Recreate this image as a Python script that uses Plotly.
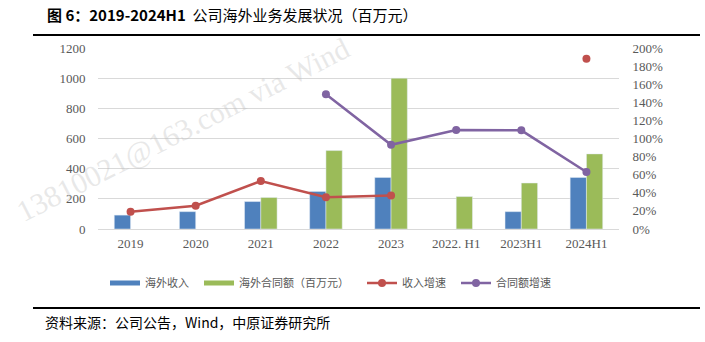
import plotly.graph_objects as go

categories = ["2019", "2020", "2021", "2022", "2023", "2022. H1", "2023H1", "2024H1"]
overseas_revenue = [92, 115, 182, 249, 342, None, 115, 342]
overseas_contract = [None, None, 209, 520, 1000, 215, 305, 498]
revenue_growth = [0.19, 0.257, 0.53, 0.35, 0.37, None, None, None]
revenue_growth_h1 = [None, None, None, None, None, None, None, 1.88]
contract_growth = [None, None, None, 1.49, 0.93, 1.094, 1.09, 0.63]

W, H = 705, 342
L, R, T, B = 98, 619, 48, 229

def px(x):
    return (x - L) / (R - L)

def py(y):
    return (B - y) / (B - T)

BLUE = "#4F81BD"
GREEN = "#9BBB59"
RED = "#C0504D"
PURPLE = "#8064A2"

fig = go.Figure()
fig.add_trace(go.Bar(x=categories, y=overseas_revenue, name="海外收入", marker_color=BLUE,
                     showlegend=False))
fig.add_trace(go.Bar(x=categories, y=overseas_contract, name="海外合同额（百万元）",
                     marker_color=GREEN, showlegend=False))
# legend swatches for bars (wide thin rectangles as in the original)
fig.add_trace(go.Scatter(x=[None], y=[None], name="海外收入", mode="lines",
                         line=dict(color=BLUE, width=5), legend="legend"))
fig.add_trace(go.Scatter(x=[None], y=[None], name="海外合同额（百万元）", mode="lines",
                         line=dict(color=GREEN, width=5), legend="legend2"))
fig.add_trace(go.Scatter(x=categories, y=revenue_growth, name="收入增速", yaxis="y2",
                         mode="lines+markers", line=dict(color=RED, width=2.5),
                         marker=dict(size=8, color=RED), legend="legend3"))
fig.add_trace(go.Scatter(x=categories, y=revenue_growth_h1, name="收入增速", yaxis="y2",
                         mode="markers", marker=dict(size=8, color=RED), showlegend=False))
fig.add_trace(go.Scatter(x=categories, y=contract_growth, name="合同额增速", yaxis="y2",
                         mode="lines+markers", line=dict(color=PURPLE, width=2.5),
                         marker=dict(size=8, color=PURPLE), legend="legend4"))

tick_font = dict(family="Liberation Serif, DejaVu Serif, serif", size=13, color="#595959")

def leg(xpix):
    return dict(orientation="h", x=px(xpix), y=py(283), yanchor="middle", xanchor="left",
                font=dict(family="Noto Sans CJK SC", size=11, color="#595959"),
                itemwidth=30, bgcolor="rgba(0,0,0,0)")

fig.update_layout(
    width=W, height=H,
    margin=dict(l=L, r=W - R, t=T, b=H - B, pad=0),
    paper_bgcolor="white", plot_bgcolor="white",
    barmode="group", bargap=0.5, bargroupgap=0,
    showlegend=True,
    legend=leg(105), legend2=leg(199), legend3=leg(362), legend4=leg(456),
    xaxis=dict(type="category", tickfont=tick_font, showline=True, linecolor="#D9D9D9",
               linewidth=1, ticks="outside", ticklen=2, tickcolor="white", showgrid=False),
    yaxis=dict(range=[0, 1200], dtick=200, tickfont=tick_font, gridcolor="#D9D9D9",
               gridwidth=1, zeroline=False, showline=False, ticks="outside",
               ticklen=9, tickcolor="white"),
    yaxis2=dict(range=[0, 2.0], dtick=0.2, tickformat=".0%", overlaying="y", side="right",
                tickfont=tick_font, showgrid=False, zeroline=False, showline=False,
                ticks="outside", ticklen=10, tickcolor="white"),
    font=dict(family="Noto Sans CJK SC"),
)

annotations = [
    dict(x=px(45), y=py(15), xref="paper", yref="paper", xanchor="left", yanchor="middle",
         showarrow=False,
         text="<b>图 6：2019-2024H1</b>  公司海外业务发展状况（百万元）",
         font=dict(family="Noto Sans CJK SC", size=15, color="black")),
    dict(x=px(43), y=py(322), xref="paper", yref="paper", xanchor="left", yanchor="middle",
         showarrow=False,
         text="资料来源：公司公告，Wind，中原证券研究所",
         font=dict(family="Noto Sans CJK SC", size=14, color="black")),
    dict(x=px(183), y=py(130), xref="paper", yref="paper", xanchor="center", yanchor="middle",
         showarrow=False, textangle=-27,
         text="13810021@163.com via Wind",
         font=dict(family="Liberation Serif", size=30, color="rgba(190,190,190,0.35)")),
]
fig.update_layout(annotations=annotations)

fig.update_layout(shapes=[
    dict(type="line", xref="paper", yref="paper", x0=px(33), x1=px(700), y0=py(35), y1=py(35),
         line=dict(color="black", width=2)),
    dict(type="line", xref="paper", yref="paper", x0=px(33), x1=px(700), y0=py(308), y1=py(308),
         line=dict(color="black", width=2)),
])

fig.write_html("out.html")
